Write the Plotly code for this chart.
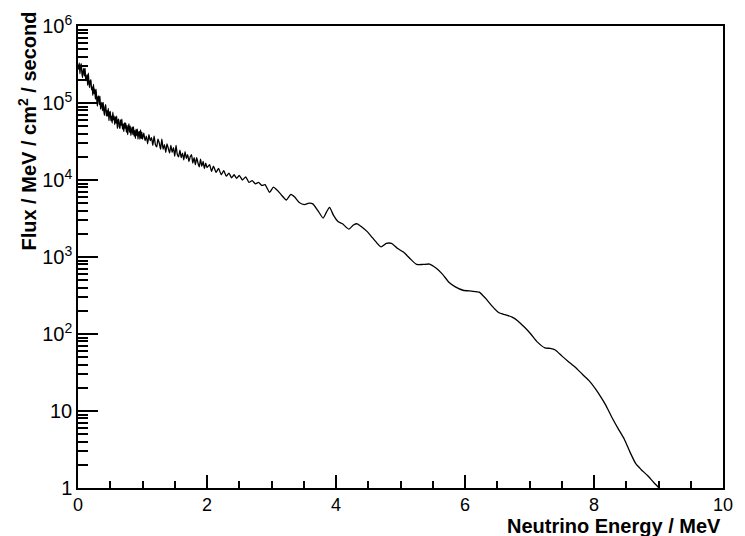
import plotly.graph_objects as go

energy_mev = [
    0.00, 0.01, 0.02, 0.03, 0.04, 0.05, 0.06, 0.07, 0.08, 0.09,
    0.10, 0.11, 0.12, 0.13, 0.14, 0.15, 0.16, 0.17, 0.18, 0.19,
    0.20, 0.21, 0.22, 0.23, 0.24, 0.25, 0.26, 0.27, 0.28, 0.29,
    0.30, 0.31, 0.32, 0.33, 0.34, 0.35, 0.36, 0.37, 0.38, 0.39,
    0.40, 0.41, 0.42, 0.43, 0.44, 0.45, 0.46, 0.47, 0.48, 0.49,
    0.50, 0.51, 0.52, 0.53, 0.54, 0.55, 0.56, 0.57, 0.58, 0.59,
    0.60, 0.61, 0.62, 0.63, 0.64, 0.65, 0.66, 0.67, 0.68, 0.69,
    0.70, 0.71, 0.72, 0.73, 0.74, 0.75, 0.76, 0.77, 0.78, 0.79,
    0.80, 0.81, 0.82, 0.83, 0.84, 0.85, 0.86, 0.87, 0.88, 0.89,
    0.90, 0.91, 0.92, 0.93, 0.94, 0.95, 0.96, 0.97, 0.98, 0.99,
    1.00, 1.02, 1.04, 1.06, 1.08, 1.10, 1.12, 1.14, 1.16, 1.18,
    1.20, 1.22, 1.24, 1.26, 1.28, 1.30, 1.32, 1.34, 1.36, 1.38,
    1.40, 1.42, 1.44, 1.46, 1.48, 1.50, 1.52, 1.54, 1.56, 1.58,
    1.60, 1.62, 1.64, 1.66, 1.68, 1.70, 1.72, 1.74, 1.76, 1.78,
    1.80, 1.82, 1.84, 1.86, 1.88, 1.90, 1.92, 1.94, 1.96, 1.98,
    2.00, 2.04, 2.07, 2.10, 2.14, 2.18, 2.22, 2.26, 2.30, 2.34,
    2.38, 2.42, 2.46, 2.50, 2.55, 2.60, 2.65, 2.70, 2.75, 2.80,
    2.85, 2.90, 2.97, 3.03, 3.10, 3.16, 3.23, 3.30, 3.36, 3.43,
    3.51, 3.58, 3.64, 3.72, 3.80, 3.85, 3.90, 3.96, 4.03, 4.10,
    4.20, 4.27, 4.33, 4.40, 4.48, 4.56, 4.64, 4.70, 4.78, 4.86,
    4.95, 5.05, 5.15, 5.25, 5.35, 5.45, 5.55, 5.65, 5.75, 5.85,
    5.97, 6.10, 6.22, 6.32, 6.42, 6.52, 6.62, 6.73, 6.82, 6.92,
    7.02, 7.12, 7.24, 7.32, 7.40, 7.50, 7.60, 7.71, 7.82, 7.92,
    8.02, 8.10, 8.18, 8.27, 8.37, 8.47, 8.56, 8.65, 8.73, 8.83,
    8.93, 9.01, 9.05,
]

flux = [
    3.16e5, 2.75e5, 3.31e5, 2.40e5, 3.02e5, 3.24e5, 2.45e5, 2.14e5, 2.63e5, 2.82e5,
    2.24e5, 2.82e5, 1.95e5, 2.14e5, 2.34e5, 1.70e5, 2.45e5, 1.82e5, 1.58e5, 1.95e5,
    2.00e5, 1.48e5, 1.62e5, 1.26e5, 1.74e5, 1.32e5, 1.51e5, 1.12e5, 1.51e5, 1.15e5,
    9.12e4, 1.20e5, 1.23e5, 9.55e4, 1.23e5, 8.32e4, 9.55e4, 1.02e5, 7.94e4, 1.02e5,
    7.94e4, 6.92e4, 8.91e4, 9.55e4, 6.76e4, 7.94e4, 6.76e4, 8.51e4, 5.89e4, 7.41e4,
    7.76e4, 5.89e4, 6.76e4, 5.50e4, 7.59e4, 6.03e4, 6.76e4, 5.25e4, 6.61e4, 5.50e4,
    6.76e4, 4.68e4, 5.89e4, 6.17e4, 4.90e4, 4.68e4, 6.03e4, 5.13e4, 6.17e4, 4.57e4,
    5.37e4, 4.27e4, 5.50e4, 4.68e4, 5.50e4, 4.17e4, 5.13e4, 3.89e4, 4.79e4, 5.37e4,
    4.17e4, 5.01e4, 3.80e4, 4.47e4, 4.90e4, 3.89e4, 4.90e4, 3.72e4, 4.37e4, 3.47e4,
    4.57e4, 3.80e4, 4.57e4, 3.39e4, 4.07e4, 4.27e4, 3.39e4, 4.47e4, 3.47e4, 4.17e4,
    3.39e4, 4.07e4, 3.24e4, 3.72e4, 2.95e4, 3.89e4, 3.24e4, 3.55e4, 2.82e4, 3.72e4,
    2.88e4, 2.69e4, 3.39e4, 3.02e4, 2.51e4, 3.39e4, 2.51e4, 2.88e4, 2.29e4, 2.95e4,
    2.57e4, 2.24e4, 2.82e4, 2.29e4, 2.63e4, 2.04e4, 2.82e4, 2.14e4, 2.00e4, 2.45e4,
    1.95e4, 2.24e4, 1.82e4, 2.34e4, 1.91e4, 2.14e4, 1.74e4, 2.00e4, 2.14e4, 1.66e4,
    1.95e4, 1.58e4, 1.95e4, 1.66e4, 1.48e4, 1.86e4, 1.51e4, 1.74e4, 1.41e4, 1.66e4,
    1.45e4, 1.58e4, 1.29e4, 1.51e4, 1.26e4, 1.41e4, 1.17e4, 1.32e4, 1.12e4, 1.23e4,
    1.07e4, 1.17e4, 1.05e4, 1.15e4, 1.0e4, 1.1e4, 9.3e3, 9.8e3, 8.9e3, 9.3e3,
    8.5e3, 8.7e3, 6.9e3, 8.1e3, 7.2e3, 6.3e3, 5.5e3, 6.5e3, 6.0e3, 5.1e3,
    4.8e3, 5.0e3, 4.9e3, 4.0e3, 3.2e3, 3.8e3, 4.4e3, 3.5e3, 2.9e3, 2.7e3,
    2.3e3, 2.6e3, 2.7e3, 2.45e3, 2.15e3, 1.8e3, 1.5e3, 1.35e3, 1.5e3, 1.5e3,
    1.3e3, 1.15e3, 950, 800, 800, 810, 720, 600, 470, 410,
    370, 360, 350, 290, 230, 190, 178, 166, 148, 123,
    100, 79, 66, 65, 62, 52, 44, 37, 30, 25,
    19.5, 15.5, 12, 8.5, 6.0, 4.3, 2.9, 2.05, 1.74, 1.45,
    1.17, 1.0, 0.9,
]

y_tick_values = [1, 10, 100, 1e3, 1e4, 1e5, 1e6]
y_tick_labels = ["1", "10", "10<sup>2</sup>", "10<sup>3</sup>",
                 "10<sup>4</sup>", "10<sup>5</sup>", "10<sup>6</sup>"]
x_tick_values = [0, 2, 4, 6, 8, 10]
x_tick_labels = ["0", "2", "4", "6", "8", "10"]

x_title = "Neutrino Energy / MeV"
y_title = "Flux / MeV / cm<sup>2</sup> / second"

FONT = "Liberation Sans, Arial, sans-serif"

y_minor = [m * 10 ** k for k in range(0, 6) for m in range(2, 10)]

fig = go.Figure()
fig.add_trace(go.Scatter(
    x=energy_mev, y=flux, mode="lines",
    line=dict(color="black", width=1.3, shape="spline", smoothing=0.5),
    showlegend=False, hoverinfo="skip",
))

fig.update_layout(
    width=745, height=536,
    margin=dict(l=78, r=15, t=18, b=48),
    paper_bgcolor="white", plot_bgcolor="white",
    font=dict(family=FONT, color="black", size=19),
    xaxis=dict(
        range=[0, 10], showgrid=False, zeroline=False,
        showline=True, linecolor="black", linewidth=1.5, mirror=True,
        tickvals=x_tick_values, ticktext=x_tick_labels,
        ticks="inside", ticklen=13, tickwidth=1.5, tickcolor="black",
        minor=dict(dtick=0.5, ticks="inside", ticklen=7, tickwidth=1.5, tickcolor="black"),
        tickfont=dict(size=18, family=FONT, color="black"),
    ),
    yaxis=dict(
        type="log", range=[0, 6], showgrid=False, zeroline=False,
        showline=True, linecolor="black", linewidth=1.5, mirror=True,
        tickvals=y_tick_values, ticktext=y_tick_labels,
        ticks="inside", ticklen=20, tickwidth=1.5, tickcolor="black",
        minor=dict(tickvals=y_minor, ticks="inside", ticklen=10, tickwidth=1.5, tickcolor="black"),
        tickfont=dict(size=20, family=FONT, color="black"),
    ),
    annotations=[
        dict(text="<b>" + x_title + "</b>", xref="paper", yref="paper",
             x=1.0, y=-0.110, xanchor="right", yanchor="bottom", showarrow=False,
             font=dict(size=20, family=FONT, color="black")),
        dict(text="<b>" + y_title + "</b>", xref="paper", yref="paper",
             x=-0.078, y=1.036, xanchor="center", yanchor="top", textangle=-90,
             showarrow=False, font=dict(size=20, family=FONT, color="black")),
    ],
)

fig.write_html("out.html")
